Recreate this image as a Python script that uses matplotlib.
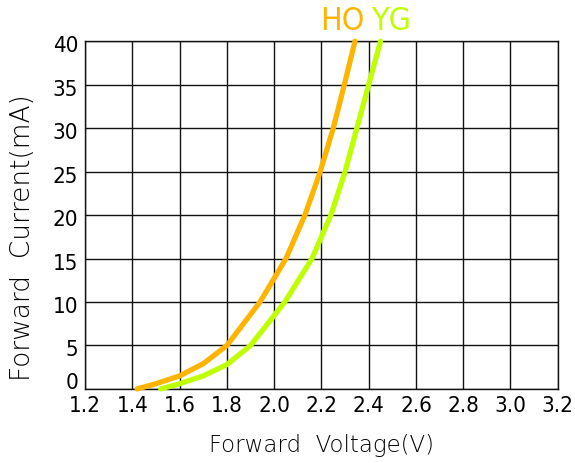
import matplotlib.pyplot as plt
from matplotlib import font_manager
from matplotlib.transforms import ScaledTranslation

# forward voltage (V) vs forward current (mA)
ho_v = [1.42, 1.50, 1.60, 1.70, 1.80, 1.94, 2.05, 2.13, 2.195, 2.25, 2.297, 2.342]
ho_i = [0.0, 0.6, 1.5, 2.9, 5.0, 10.0, 15.0, 20.0, 25.0, 30.0, 35.0, 40.0]
yg_v = [1.52, 1.60, 1.70, 1.80, 1.90, 2.045, 2.16, 2.24, 2.30, 2.35, 2.40, 2.45]
yg_i = [0.0, 0.6, 1.5, 2.8, 5.0, 10.0, 15.0, 20.0, 25.0, 30.0, 35.0, 40.0]

x_ticks = [1.2, 1.4, 1.6, 1.8, 2.0, 2.2, 2.4, 2.6, 2.8, 3.0, 3.2]
y_ticks = [0, 5, 10, 15, 20, 25, 30, 35, 40]

# narrow font for the numbers if one is around
fonts = font_manager.fontManager.ttflist
names = {f.name for f in fonts}
if 'Liberation Sans Narrow' in names:
    num_font = dict(family='Liberation Sans Narrow')
elif any(f.name == 'DejaVu Sans' and f.stretch == 'condensed' for f in fonts):
    num_font = dict(family='DejaVu Sans', stretch='condensed')
else:
    num_font = dict(family='Liberation Sans')

ho_color = '#FFB400'
yg_color = '#BFFF00'

fig = plt.figure(figsize=(5.75, 4.63), dpi=100)
ax = fig.add_axes([0.148, 0.160, 0.822, 0.751])

ax.plot(ho_v, ho_i, color=ho_color, lw=3.8, solid_capstyle='round',
        solid_joinstyle='round', clip_on=False, zorder=3)
ax.plot(yg_v, yg_i, color=yg_color, lw=3.8, solid_capstyle='round',
        solid_joinstyle='round', clip_on=False, zorder=3)

ax.set_xlim(1.2, 3.2)
ax.set_ylim(0, 40)
ax.set_xticks(x_ticks)
ax.set_yticks(y_ticks)
ax.set_xticklabels(['%.1f' % v for v in x_ticks], fontsize=16, **num_font)
ax.set_yticklabels([str(v) for v in y_ticks], fontsize=16, **num_font)
ax.tick_params(length=0)
ax.tick_params(axis='y', pad=5)
ax.tick_params(axis='x', pad=5)
ax.grid(True, color='#111111', lw=1.0)
for s in ax.spines.values():
    s.set_color('#111111')
    s.set_linewidth(1.0)

# y numbers sit a little below their grid lines, the 0 a little above
for lab in ax.get_yticklabels():
    dy = 8 if lab.get_text() == '0' else -3
    lab.set_transform(lab.get_transform() + ScaledTranslation(0, dy / 100, fig.dpi_scale_trans))

ax.set_xlabel('Forward  Voltage(V)', fontsize=16.5, fontweight='light', color='#000000', labelpad=13)
ax.set_ylabel('Forward  Current(mA)', fontsize=19, fontweight='light', color='#000000')
ax.yaxis.set_label_coords(-0.107, 0.434)

ax.text(2.287, 40.5, 'HO', color=ho_color, fontsize=23, ha='center', va='bottom', **num_font)
ax.text(2.494, 40.5, 'YG', color=yg_color, fontsize=23, ha='center', va='bottom', **num_font)

fig.savefig('out.png', dpi=100)
